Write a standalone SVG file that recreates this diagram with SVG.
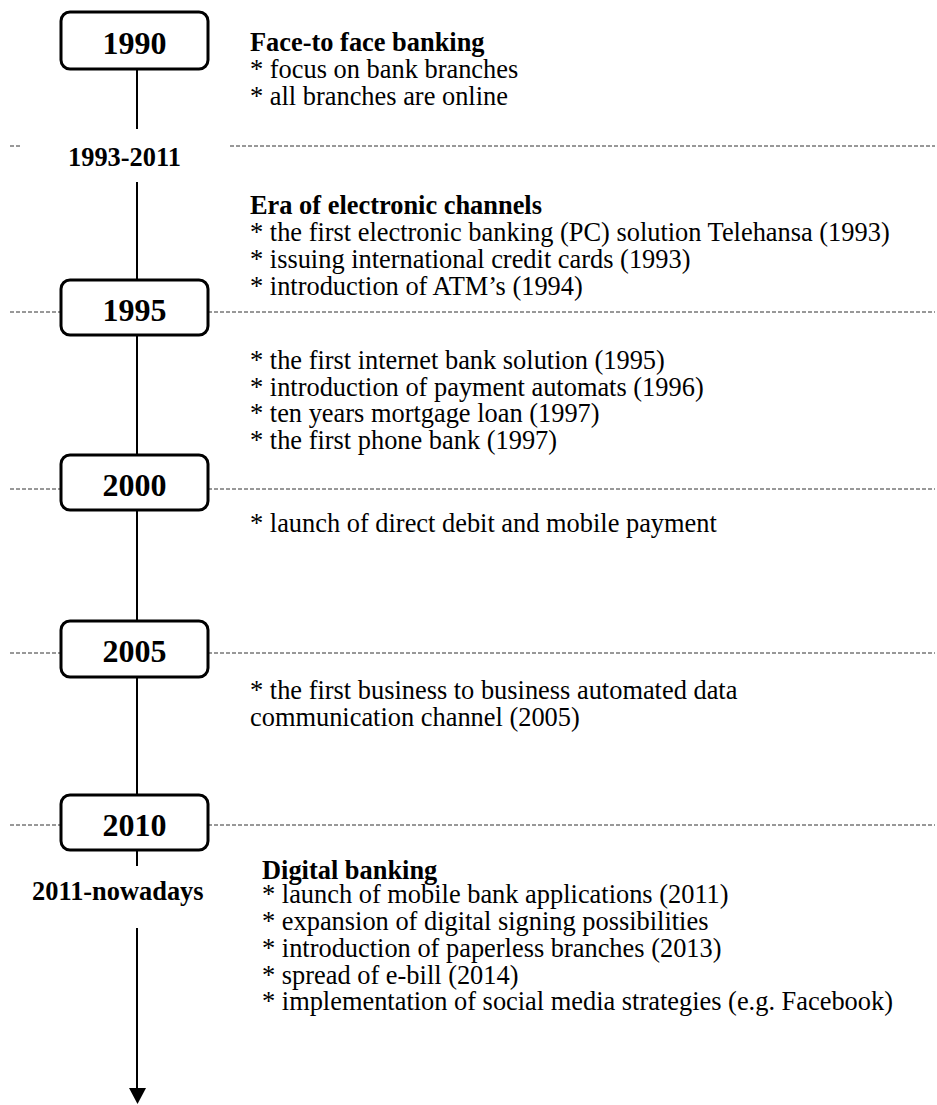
<svg xmlns="http://www.w3.org/2000/svg" width="937" height="1105" viewBox="0 0 937 1105">
<style>
.box{fill:#fff;stroke:#000;stroke-width:3}
.yr{font-family:"Liberation Serif","Times New Roman",serif;font-weight:bold;font-size:32px;text-anchor:middle;fill:#000}
.era{font-family:"Liberation Serif","Times New Roman",serif;font-weight:bold;font-size:26.4px;fill:#000}
.h{font-family:"Liberation Serif","Times New Roman",serif;font-weight:bold;font-size:26.4px;fill:#000}
.t{font-family:"Liberation Serif","Times New Roman",serif;font-size:26.4px;fill:#000}
.dash{stroke:#333;stroke-width:1;stroke-dasharray:4 2;fill:none}
.axis{stroke:#000;stroke-width:2;fill:none}
</style>
<g id="separators">
<line class="dash" x1="10" y1="146" x2="22" y2="146"/>
<line class="dash" x1="230" y1="146" x2="935" y2="146"/>
<line class="dash" x1="10" y1="312" x2="61" y2="312"/>
<line class="dash" x1="208" y1="312" x2="935" y2="312"/>
<line class="dash" x1="10" y1="489" x2="61" y2="489"/>
<line class="dash" x1="208" y1="489" x2="935" y2="489"/>
<line class="dash" x1="10" y1="653" x2="61" y2="653"/>
<line class="dash" x1="208" y1="653" x2="935" y2="653"/>
<line class="dash" x1="10" y1="825" x2="61" y2="825"/>
<line class="dash" x1="208" y1="825" x2="935" y2="825"/>
</g>
<g id="connectors">
<line class="axis" x1="137" y1="69" x2="137" y2="129"/>
<line class="axis" x1="137" y1="182" x2="137" y2="280"/>
<line class="axis" x1="137" y1="335" x2="137" y2="455"/>
<line class="axis" x1="137" y1="510" x2="137" y2="621"/>
<line class="axis" x1="137" y1="677" x2="137" y2="795"/>
<line class="axis" x1="137" y1="850" x2="137" y2="866"/>
<path d="M137,928 L137,1090" class="axis"/>
<path d="M129,1088 L146,1088 L137.5,1104 Z" fill="#000"/>
</g>
<g id="node-1990">
<rect class="box" x="61" y="12" width="147" height="57" rx="9"/>
<text class="yr" x="134.5" y="53.5">1990</text>
</g>
<g id="node-1995">
<rect class="box" x="61" y="280" width="147" height="55" rx="9"/>
<text class="yr" x="134.5" y="321">1995</text>
</g>
<g id="node-2000">
<rect class="box" x="61" y="455" width="147" height="55" rx="9"/>
<text class="yr" x="134.5" y="496">2000</text>
</g>
<g id="node-2005">
<rect class="box" x="61" y="621" width="147" height="56" rx="9"/>
<text class="yr" x="134.5" y="662">2005</text>
</g>
<g id="node-2010">
<rect class="box" x="61" y="795" width="147" height="55" rx="9"/>
<text class="yr" x="134.5" y="836">2010</text>
</g>
<g id="label-1993-2011">
<text class="era" x="68" y="166">1993-2011</text>
</g>
<g id="label-2011-nowadays">
<text class="era" x="32" y="900">2011-nowadays</text>
</g>
<g id="text-1990">
<text class="h" x="250" y="51">Face-to face banking</text>
<text class="t" x="250" y="78">* focus on bank branches</text>
<text class="t" x="250" y="105">* all branches are online</text>
</g>
<g id="text-1993">
<text class="h" x="250" y="214">Era of electronic channels</text>
<text class="t" x="250" y="241">* the first electronic banking (PC) solution Telehansa (1993)</text>
<text class="t" x="250" y="268">* issuing international credit cards (1993)</text>
<text class="t" x="250" y="295">* introduction of ATM’s (1994)</text>
</g>
<g id="text-1995">
<text class="t" x="250" y="369">* the first internet bank solution (1995)</text>
<text class="t" x="250" y="395.5">* introduction of payment automats (1996)</text>
<text class="t" x="250" y="422">* ten years mortgage loan (1997)</text>
<text class="t" x="250" y="449">* the first phone bank (1997)</text>
</g>
<g id="text-2000">
<text class="t" x="250" y="532">* launch of direct debit and mobile payment</text>
</g>
<g id="text-2005">
<text class="t" x="250" y="699">* the first business to business automated data</text>
<text class="t" x="250" y="726">communication channel (2005)</text>
</g>
<g id="text-2011">
<text class="h" x="262" y="879">Digital banking</text>
<text class="t" x="262" y="903">* launch of mobile bank applications (2011)</text>
<text class="t" x="262" y="930">* expansion of digital signing possibilities</text>
<text class="t" x="262" y="957">* introduction of paperless branches (2013)</text>
<text class="t" x="262" y="984">* spread of e-bill (2014)</text>
<text class="t" x="262" y="1010">* implementation of social media strategies (e.g. Facebook)</text>
</g>
</svg>
